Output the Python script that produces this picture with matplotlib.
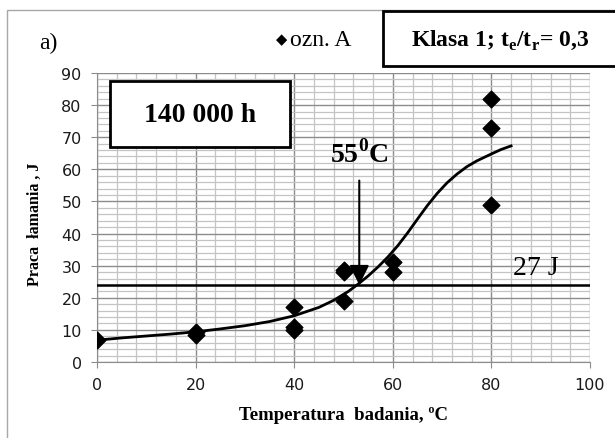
import numpy as np
import matplotlib.pyplot as plt
from matplotlib.patches import Rectangle
from matplotlib.ticker import MultipleLocator

# pomiary - praca lamania w funkcji temperatury badania
temp_pts = [0, 20, 20, 40, 40, 40, 50, 50, 50, 60, 60, 80, 80, 80]
work_pts = [7, 8.3, 9.2, 17, 11, 10, 28.7, 28, 19, 31, 28, 82, 73, 49]

# krzywa przejscia
curve_t = [0, 5, 10, 15, 20, 25, 30, 35, 40, 45, 48, 51, 53, 55, 57, 59, 61, 63,
           65, 67, 69, 71, 73, 75, 77, 80, 82, 84]
curve_w = [6.8, 7.5, 8.1, 8.7, 9.4, 10.3, 11.3, 12.6, 14.4, 17.0, 19.2, 22.0, 24.3,
           26.8, 29.6, 32.7, 36.2, 40.2, 44.5, 48.7, 52.5, 55.8, 58.5, 60.8, 62.6,
           64.8, 66.2, 67.3]

level_j = 24          # linia kryterium 27 J
t_trans = 53.2        # temperatura przejscia

SERIF = 'Liberation Serif'
SANS = 'DejaVu Sans'

plt.rcParams['mathtext.fontset'] = 'custom'
plt.rcParams['mathtext.rm'] = SERIF
plt.rcParams['mathtext.bf'] = SERIF + ':bold'

fig = plt.figure(figsize=(6.15, 4.39), dpi=100)
ax = fig.add_axes([97 / 615, 76 / 439, 493 / 615, 289 / 439])

# ramka calego wykresu
fig.patches.append(Rectangle((7 / 615, -0.02), 1.0, 1.02 - 11 / 439,
                             transform=fig.transFigure,
                             fill=False, edgecolor='#a8a8a8', lw=1.0))

ax.set_xlim(0, 100)
ax.set_ylim(0, 90)
ax.xaxis.set_major_locator(MultipleLocator(20))
ax.xaxis.set_minor_locator(MultipleLocator(4))
ax.yaxis.set_major_locator(MultipleLocator(10))
ax.yaxis.set_minor_locator(MultipleLocator(2))
ax.grid(which='minor', color='#c4c4c4', lw=0.9)
ax.grid(which='major', color='#8c8c8c', lw=1.0)
ax.set_axisbelow(True)
for s in ['top', 'right']:
    ax.spines[s].set_visible(False)
for s in ['left', 'bottom']:
    ax.spines[s].set_color('#8c8c8c')
ax.tick_params(which='minor', length=0)
ax.tick_params(which='major', length=4, color='#8c8c8c', labelsize=11.5, pad=7)
for lab in ax.get_xticklabels() + ax.get_yticklabels():
    lab.set_family(SANS)
    lab.set_color('#1a1a1a')

ax.plot(curve_t, curve_w, color='black', lw=2, zorder=3, solid_joinstyle='round')
ax.scatter(temp_pts, work_pts, marker='D', s=72, color='black', zorder=4)
ax.axhline(level_j, color='black', lw=1.8, zorder=3)

ax.annotate('', xy=(t_trans, level_j), xytext=(t_trans, 56.5),
            arrowprops=dict(arrowstyle='-|>,head_length=1.2,head_width=0.6',
                            color='black', lw=1.5, shrinkA=0, shrinkB=0), zorder=5)
ax.text(t_trans, 62.3, '55$^{\\mathbf{0}}$C', ha='center', va='baseline', fontsize=20,
        fontweight='bold', family=SERIF)
ax.text(89, 25.5, '27 J', ha='center', va='bottom', fontsize=20, family=SERIF)

# prostokat z czasem eksploatacji
ax.add_patch(Rectangle((2.6, 67), 36.6, 20.5, fc='white', ec='black', lw=2, zorder=6))
ax.text(20.9, 77.2, '140 000 h', ha='center', va='center', fontsize=20, fontweight='bold',
        family=SERIF, zorder=7)

ax.set_xlabel('Temperatura  badania, ºC', fontsize=13.5, fontweight='bold', family=SERIF,
              labelpad=10)
ax.set_ylabel('Praca  łamania , J', fontsize=11.5, fontweight='bold', family=SERIF)
ax.yaxis.set_label_coords(-0.11, 0.48)

fig.text(48 / 615, 1 - 43 / 439, 'a)', fontsize=17, family=SERIF, ha='center', va='center')
fig.text(282 / 615, 1 - 40 / 439, '◆', fontsize=10.5, family='DejaVu Sans',
         ha='center', va='center')
fig.text(290 / 615, 1 - 41 / 439, 'ozn. A', fontsize=17, family=SERIF, va='center')

# opis klasy w prostokacie
fig.patches.append(Rectangle((383 / 615, 1 - 67 / 439), 0.5, 55 / 439,
                             transform=fig.transFigure,
                             fill=True, fc='white', edgecolor='black', lw=2))
fig.text(500 / 615, 1 - 40 / 439, 'Klasa 1; t$_{\\mathbf{e}}$/t$_{\\mathbf{r}}$= 0,3',
         fontsize=17, fontweight='bold', family=SERIF, ha='center', va='center')

fig.savefig('out.png', dpi=100)
